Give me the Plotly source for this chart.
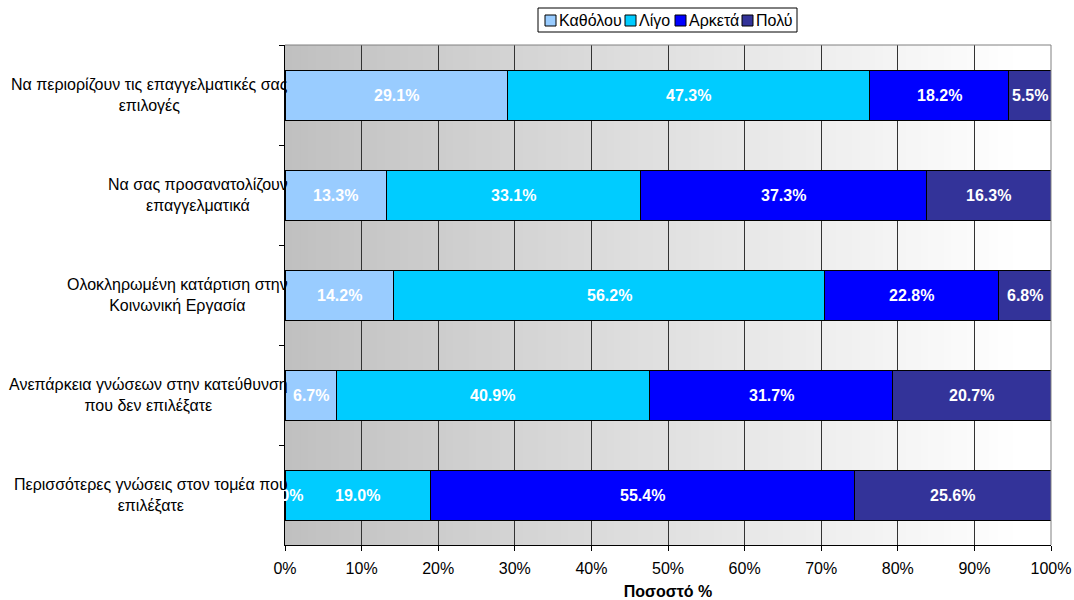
import plotly.graph_objects as go

# Survey statements (top to bottom) and answer distribution (%)
categories = [
    "Να περιορίζουν τις επαγγελματικές σας<br>επιλογές",
    "Να σας προσανατολίζουν<br>επαγγελματικά",
    "Ολοκληρωμένη κατάρτιση στην<br>Κοινωνική Εργασία",
    "Ανεπάρκεια γνώσεων στην κατεύθυνση<br>που δεν επιλέξατε",
    "Περισσότερες γνώσεις στον τομέα που<br>επιλέξατε",
]
series_names = ["Καθόλου", "Λίγο", "Αρκετά", "Πολύ"]
kathol = [29.1, 13.3, 14.2, 6.7, 0.0]
ligo = [47.3, 33.1, 56.2, 40.9, 19.0]
arketa = [18.2, 37.3, 22.8, 31.7, 55.4]
poly = [5.5, 16.3, 6.8, 20.7, 25.6]
x_ticks = list(range(0, 101, 10))

series_values = [kathol, ligo, arketa, poly]
colors = ["#99CCFF", "#00CCFF", "#0000FF", "#333399"]
FONT = "Liberation Sans, Arial, sans-serif"

W, H = 1074, 600
M_L, M_R, M_T, M_B = 285, 23, 45, 55
PLOT_W = W - M_L - M_R
PLOT_H = H - M_T - M_B


def px_x(px):
    """Pixel column -> paper x."""
    return (px - M_L) / PLOT_W


def px_y(py):
    """Pixel row -> paper y."""
    return 1 - (py - M_T) / PLOT_H


keys = [f"c{i}" for i in range(len(categories))]

fig = go.Figure()
for name, vals, col in zip(series_names, series_values, colors):
    fig.add_trace(go.Bar(
        y=keys, x=vals, name=name, orientation="h",
        marker=dict(color=col, line=dict(color="black", width=1)),
        width=0.5, hoverinfo="x+name", showlegend=False,
    ))

annotations = []
# Value labels at the middle of each (normalised) segment
for i, key in enumerate(keys):
    row = [s[i] for s in series_values]
    total = sum(row)
    start = 0.0
    for v in row:
        w = v / total * 100
        annotations.append(dict(
            x=start + w / 2, y=key, xref="x", yref="y",
            text=f"<b>{v:.1f}%</b>", showarrow=False,
            font=dict(family=FONT, size=16, color="white"),
        ))
        start += w

# Category labels, centred lines ending at the axis
for key, label in zip(keys, categories):
    annotations.append(dict(
        x=0, y=key, xref="paper", yref="y", xanchor="right", xshift=5,
        align="center", text=label, showarrow=False,
        font=dict(family=FONT, size=16, color="black"),
    ))

# Plot-area background: grey-to-white horizontal gradient
shapes = []
steps = 100
for i in range(steps):
    t = min(i / 95.0, 1.0)
    g = int(round(192 + (255 - 192) * t))
    shapes.append(dict(
        type="rect", xref="x", yref="paper", x0=i, x1=i + 1.2, y0=0, y1=1,
        fillcolor=f"rgb({g},{g},{g})", line=dict(width=0), layer="below",
    ))
# Grey border on top and right of the plot area
shapes.append(dict(type="line", xref="paper", yref="paper", x0=0, x1=1, y0=1, y1=1,
                   line=dict(color="#808080", width=1)))
shapes.append(dict(type="line", xref="paper", yref="paper", x0=1, x1=1, y0=0, y1=1,
                   line=dict(color="#808080", width=1)))

# Compact boxed legend above the plot: swatch + label per series
legend_box = (538, 8, 797, 32)
swatch_left = [545, 625, 675, 742]
shapes.append(dict(
    type="rect", xref="paper", yref="paper",
    x0=px_x(legend_box[0]), x1=px_x(legend_box[2]),
    y0=px_y(legend_box[3]), y1=px_y(legend_box[1]),
    fillcolor="white", line=dict(color="black", width=1),
))
for name, col, sx in zip(series_names, colors, swatch_left):
    shapes.append(dict(
        type="rect", xref="paper", yref="paper",
        x0=px_x(sx), x1=px_x(sx + 11), y0=px_y(26), y1=px_y(15),
        fillcolor=col, line=dict(color="black", width=1),
    ))
    annotations.append(dict(
        x=px_x(sx + 12), y=px_y(20.5), xref="paper", yref="paper",
        xanchor="left", yanchor="middle", text=name, showarrow=False,
        font=dict(family=FONT, size=16, color="black"),
    ))

fig.update_layout(
    barmode="stack",
    barnorm="percent",
    width=W, height=H,
    margin=dict(l=M_L, r=M_R, t=M_T, b=M_B, autoexpand=False),
    paper_bgcolor="white",
    plot_bgcolor="white",
    font=dict(family=FONT, size=16, color="black"),
    showlegend=False,
    xaxis=dict(
        range=[0, 100], tickmode="array", tickvals=x_ticks,
        ticktext=[f"{t}%" for t in x_ticks],
        ticks="outside", ticklen=5, tickcolor="black",
        ticklabelstandoff=4,
        showline=True, linecolor="black", linewidth=1,
        showgrid=True, gridcolor="#333333", gridwidth=1,
        zeroline=False, automargin=False,
        title=dict(text="<b>Ποσοστό %</b>", font=dict(family=FONT, size=16), standoff=10),
        tickfont=dict(family=FONT, size=16),
    ),
    yaxis=dict(
        autorange="reversed", showticklabels=False, automargin=False,
        ticks="outside", tickson="boundaries", ticklen=5, tickcolor="black",
        showline=True, linecolor="black", linewidth=1, showgrid=False,
    ),
    annotations=annotations,
    shapes=shapes,
)

fig.write_html("out.html")
